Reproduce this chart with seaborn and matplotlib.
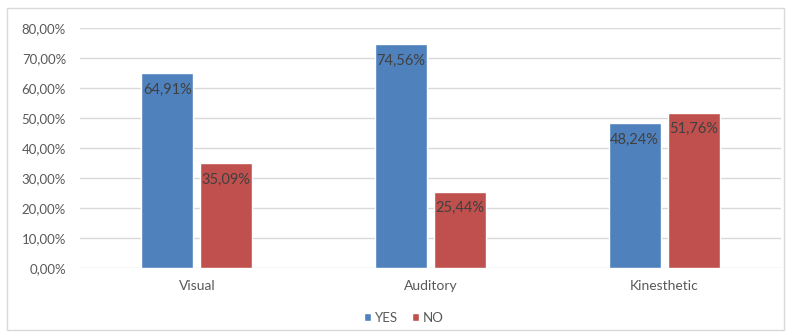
import matplotlib
matplotlib.use("Agg")
import matplotlib.pyplot as plt
import seaborn as sns
import pandas as pd
from matplotlib.patches import Rectangle
from matplotlib.ticker import FuncFormatter

categories = ["Visual", "Auditory", "Kinesthetic"]
series_names = ["YES", "NO"]
yes_values = [64.91, 74.56, 48.24]
no_values = [35.09, 25.44, 51.76]
y_ticks = [0, 10, 20, 30, 40, 50, 60, 70, 80]

colors = {"YES": "#4F81BD", "NO": "#C0504D"}
text_color = "#595959"

df = pd.DataFrame({
    "Category": categories * 2,
    "Series": ["YES"] * 3 + ["NO"] * 3,
    "Value": yes_values + no_values,
})

sns.set_theme(style="white")
plt.rcParams["font.family"] = ["Lato", "DejaVu Sans"]

fig = plt.figure(figsize=(7.89, 3.35), dpi=100)
fig.patch.set_facecolor("white")
ax = fig.add_axes([80 / 789, 1 - 268 / 335, 701 / 789, 240 / 335])

sns.barplot(data=df, x="Category", y="Value", hue="Series", order=categories,
            hue_order=series_names, palette=colors, width=0.505, gap=0.119,
            ax=ax, legend=True, saturation=1)

ax.set_ylim(0, 80)
ax.set_xlim(-0.5, 2.5)
ax.set_yticks(y_ticks)
ax.yaxis.set_major_formatter(FuncFormatter(lambda v, p: f"{v:.2f}%".replace(".", ",")))
ax.grid(axis="y", color="#D9D9D9", linewidth=1)
ax.set_axisbelow(True)
for s in ax.spines.values():
    s.set_visible(False)
ax.set_xlabel("")
ax.set_ylabel("")
ax.tick_params(axis="y", length=0, pad=10, labelsize=9.5, labelcolor=text_color)
ax.tick_params(axis="x", length=0, pad=9, labelsize=10, labelcolor=text_color)

for container in ax.containers:
    for b in container:
        h = b.get_height()
        ax.annotate(f"{h:.2f}%".replace(".", ","),
                    xy=(b.get_x() + b.get_width() / 2, h),
                    xytext=(0, -12), textcoords="offset points",
                    ha="center", va="center", fontsize=10.5, color="#404040")

handles, labels = ax.get_legend_handles_labels()
ax.get_legend().remove()
fig.legend(handles, labels, loc="center", bbox_to_anchor=(404 / 789, 1 - 318 / 335),
           ncol=2, frameon=False, fontsize=9.5, handlelength=0.55, handleheight=0.55,
           handletextpad=0.3, columnspacing=1.0, labelcolor=text_color)

fig.patches.append(Rectangle((7 / 789, 5 / 335), 777 / 789, 322 / 335,
                             transform=fig.transFigure, fill=False,
                             edgecolor="#D9D9D9", linewidth=1))

fig.savefig("out.png", dpi=100, facecolor="white")
